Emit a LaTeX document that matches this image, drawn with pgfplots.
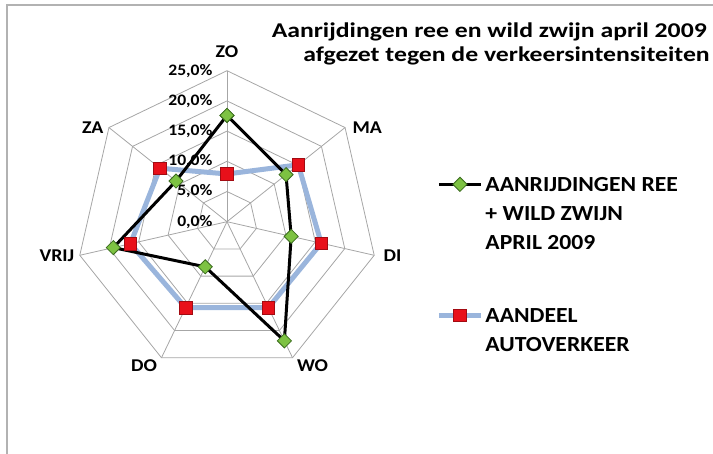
\documentclass[border=0pt]{standalone}
\usepackage{pgfplots}
\pgfplotsset{compat=1.18}
\usepgfplotslibrary{polar}
\usepackage{pgfplotstable}
\usepackage{fontspec}
\setmainfont{Carlito}[FakeStretch=1.1]
\newfontfamily\titlefont{Carlito}[FakeStretch=1.225]

\definecolor{gridgray}{HTML}{A6A6A6}
\definecolor{reegreen}{HTML}{7DC242}
\definecolor{reedark}{HTML}{3A6B1E}
\definecolor{autored}{HTML}{E8101A}
\definecolor{autoblue}{HTML}{9AB5DC}

% hoek (graden), aanrijdingen ree+wild zwijn (%), aandeel autoverkeer (%)
\pgfplotstableread{
angle ree auto
90      17.6  7.9
38.571  12.5  15.1
347.143 10.9  16.0
295.714 21.9  15.8
244.286  8.3  15.8
192.857 19.3  16.4
141.429 10.8  14.2
90      17.6  7.9
}\datatable

\begin{document}
\begin{tikzpicture}
\path[use as bounding box] (0,0) rectangle (713pt,454pt);
\draw[gray!60, line width=1.2pt] (7pt,0pt) -- (7pt,449pt) -- (713pt,449pt);

\node[anchor=base east, inner sep=0pt, font=\titlefont\bfseries\fontsize{21}{24}\selectfont] at (707pt,416.7pt) {Aanrijdingen ree en wild zwijn april 2009};
\node[anchor=base east, inner sep=0pt, font=\titlefont\bfseries\fontsize{21}{24}\selectfont] at (710pt,392.3pt) {afgezet tegen de verkeersintensiteiten};

\begin{polaraxis}[
    at={(227pt,232.3pt)}, anchor=center,
    scale only axis,
    width=302pt, height=302pt,
    hide axis,
    clip=false,
    xmin=0, xmax=360,
    ymin=0, ymax=25,
    legend style={
        at={(axis description cs:1.193,0.675)}, anchor=north west,
        draw=none, fill=none, inner sep=0pt,
        font=\bfseries\fontsize{21.5}{29}\selectfont,
        cells={anchor=base west},
        row sep=105pt,
    },
    legend image code/.code={
        \draw[mark repeat=2, mark phase=2, #1] plot coordinates {(0pt,7pt) (21pt,7pt) (42pt,7pt)};
    },
]
% raster: zevenhoeken en spaken
\pgfplotsinvokeforeach{5,10,15,20,25}{
    \addplot[gridgray, line width=0.8pt, forget plot] coordinates {
        (90,#1) (38.571,#1) (347.143,#1) (295.714,#1) (244.286,#1) (192.857,#1) (141.429,#1) (90,#1)
    };
}
\pgfplotsinvokeforeach{90,38.571,347.143,295.714,244.286,192.857,141.429}{
    \addplot[gridgray, line width=0.8pt, forget plot] coordinates {(#1,0) (#1,25)};
}

% aandeel autoverkeer
\addplot[autoblue, line width=5pt, mark=square*, mark size=6.3pt,
    mark options={fill=autored, draw=autored!70!black, line width=0.5pt}, forget plot]
    table[x=angle, y=auto] {\datatable};
% aanrijdingen ree + wild zwijn
\addplot[black, line width=3pt, mark=square*, mark size=5pt,
    mark options={fill=reegreen, draw=reedark, line width=0.8pt, rotate=45}, forget plot]
    table[x=angle, y=ree] {\datatable};

\addlegendimage{black, line width=3pt, mark=square*, mark size=5pt,
    mark options={fill=reegreen, draw=reedark, line width=0.8pt, rotate=45}}
\addlegendentry{\begin{tabular}[t]{@{}l@{}}AANRIJDINGEN REE\\+ WILD ZWIJN\\APRIL 2009\end{tabular}}
\addlegendimage{autoblue, line width=5pt, mark=square*, mark size=6.3pt,
    mark options={fill=autored, draw=autored!70!black, line width=0.5pt}}
\addlegendentry{\begin{tabular}[t]{@{}l@{}}AANDEEL\\AUTOVERKEER\end{tabular}}

% schaalwaarden
\begin{scope}[font=\bfseries\fontsize{16}{18}\selectfont]
\node[anchor=east, xshift=-11pt] at (axis cs:90,0) {0,0\%};
\node[anchor=east, xshift=-11pt] at (axis cs:90,5) {5,0\%};
\node[anchor=east, xshift=-11pt] at (axis cs:90,10) {10,0\%};
\node[anchor=east, xshift=-11pt] at (axis cs:90,15) {15,0\%};
\node[anchor=east, xshift=-11pt] at (axis cs:90,20) {20,0\%};
\node[anchor=east, xshift=-11pt] at (axis cs:90,25) {25,0\%};
\end{scope}
% categorieen
\begin{scope}[font=\bfseries\fontsize{18}{20}\selectfont]
\node[anchor=south, yshift=10pt] at (axis cs:90,25) {ZO};
\node[anchor=west, xshift=4pt] at (axis cs:38.571,25) {MA};
\node[anchor=west, xshift=6pt] at (axis cs:347.143,25) {DI};
\node[anchor=north west, xshift=1pt, yshift=2pt] at (axis cs:295.714,25) {WO};
\node[anchor=north east, xshift=-1pt, yshift=2pt] at (axis cs:244.286,25) {DO};
\node[anchor=east, xshift=-2pt] at (axis cs:192.857,25) {VRIJ};
\node[anchor=east, xshift=-2pt] at (axis cs:141.429,25) {ZA};
\end{scope}
\end{polaraxis}
\end{tikzpicture}
\end{document}
